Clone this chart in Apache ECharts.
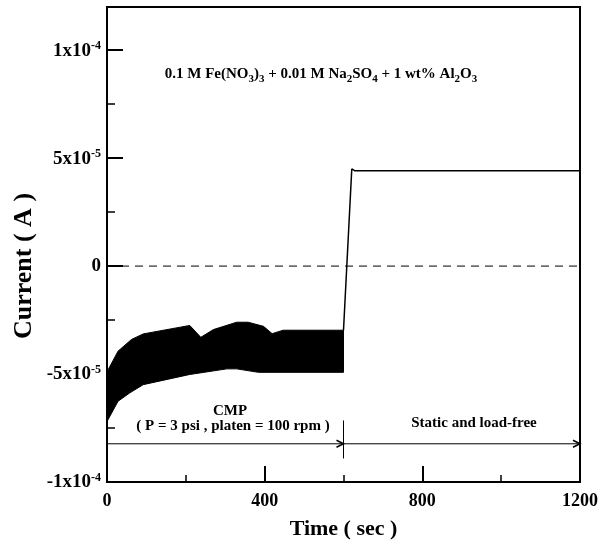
<!DOCTYPE html>
<html>
<head>
<meta charset="utf-8">
<script src="https://cdn.jsdelivr.net/npm/echarts@6/dist/echarts.min.js"></script>
<style>html,body{margin:0;padding:0;background:#fff}#c{width:610px;height:546px}</style>
</head>
<body>
<div id="c"></div>
<script>
// ---- data ----
const xTicks = [0, 400, 800, 1200];
const yTickLabels = {"-0.0001": ["-1x10", "-4"], "-0.00005": ["-5x10", "-5"], "0": ["0", ""], "0.00005": ["5x10", "-5"], "0.0001": ["1x10", "-4"]};
// CMP band (rapid oscillation envelope)
const bandUpperTime = [0, 28, 62, 92, 210, 238, 270, 329, 358, 397, 419, 447, 600];
const bandUpper = [-4.9e-5, -3.94e-5, -3.40e-5, -3.14e-5, -2.75e-5, -3.30e-5, -2.94e-5, -2.60e-5, -2.60e-5, -2.79e-5, -3.13e-5, -2.97e-5, -2.97e-5];
const bandLowerTime = [0, 28, 58, 92, 210, 304, 329, 384, 600];
const bandLower = [-7.2e-5, -6.26e-5, -5.87e-5, -5.49e-5, -5.02e-5, -4.76e-5, -4.76e-5, -4.92e-5, -4.92e-5];
// static, load-free part
const staticTime = [600, 621, 628, 1200];
const staticCurrent = [-2.97e-5, 4.5e-5, 4.42e-5, 4.42e-5];
// annotations
const arrowY = -8.23e-5;
const arrowSpans = [[0, 600], [600, 1200]];
const separatorTime = 600;
const separatorRange = [-7.15e-5, -8.91e-5];

const FONT = "'Liberation Serif', 'Times New Roman', serif";
const chart = echarts.init(document.getElementById('c'));

const staticData = staticTime.map((t, i) => [t, staticCurrent[i]]);
const upperPts = bandUpperTime.map((t, i) => [t, bandUpper[i]]);
const lowerPts = bandLowerTime.map((t, i) => [t, bandLower[i]]);

chart.setOption({
  animation: false,
  grid: {left: 107, right: 30, top: 7, bottom: 64, show: true, borderColor: '#000', borderWidth: 2, backgroundColor: 'transparent'},
  xAxis: {
    type: 'value', min: 0, max: 1200, interval: 400,
    name: 'Time ( sec )', nameLocation: 'middle', nameGap: 36,
    nameTextStyle: {fontFamily: FONT, fontWeight: 'bold', fontSize: 22, color: '#000'},
    axisLine: {onZero: false, lineStyle: {color: '#000', width: 2}},
    axisTick: {inside: true, length: 16, lineStyle: {color: '#000', width: 2}},
    minorTick: {show: true, splitNumber: 2, length: 7, lineStyle: {color: '#000', width: 1.5}},
    splitLine: {show: false},
    axisLabel: {fontFamily: FONT, fontWeight: 'bold', fontSize: 18, color: '#000', margin: 10,
      formatter: function (v) { return xTicks.indexOf(v) >= 0 ? String(v) : ''; }}
  },
  yAxis: [{
    type: 'value', min: -1e-4, max: 1.2e-4, interval: 5e-5, position: 'left',
    axisLine: {onZero: false, lineStyle: {color: '#000', width: 2}},
    axisTick: {inside: true, length: 16, lineStyle: {color: '#000', width: 2}},
    splitLine: {show: false},
    axisLabel: {
      margin: 6,
      formatter: function (v) {
        let k = null;
        for (const kk in yTickLabels) { if (Math.abs(parseFloat(kk) - v) < 1e-9) k = kk; }
        if (k === null) return '';
        const p = yTickLabels[k];
        return p[1] ? '{b|' + p[0] + '}{s|' + p[1] + '}' : '{b|' + p[0] + '}';
      },
      rich: {
        b: {fontFamily: FONT, fontWeight: 'bold', fontSize: 19, color: '#000', lineHeight: 20, verticalAlign: 'bottom'},
        s: {fontFamily: FONT, fontWeight: 'bold', fontSize: 12, color: '#000', lineHeight: 20, verticalAlign: 'top'}
      }
    }
  }, {
    type: 'value', min: -1e-4, max: 1.2e-4, interval: 2.5e-5, position: 'left',
    axisLine: {show: false, onZero: false},
    axisTick: {inside: true, length: 8, lineStyle: {color: '#000', width: 1.5}},
    axisLabel: {show: false},
    splitLine: {show: false}
  }],
  graphic: [
    {type: 'text', x: 24, y: 266, rotation: Math.PI / 2, style: {x: 0, y: 0, align: 'center', verticalAlign: 'middle',
      text: 'Current ( A )', fontFamily: FONT, fontWeight: 'bold', fontSize: 26, fill: '#000'}},
    {type: 'text', style: {x: 321, y: 76, align: 'center', verticalAlign: 'middle',
      text: '{n|0.1 M Fe(NO}{u|3}{n|)}{u|3}{n| + 0.01 M Na}{u|2}{n|SO}{u|4}{n| + 1 wt% Al}{u|2}{n|O}{u|3}',
      rich: {
        n: {fontFamily: FONT, fontWeight: 'bold', fontSize: 15, fill: '#000', lineHeight: 18, verticalAlign: 'top'},
        u: {fontFamily: FONT, fontWeight: 'bold', fontSize: 11, fill: '#000', lineHeight: 18, verticalAlign: 'bottom'}
      }}},
    {type: 'text', style: {x: 230, y: 411, align: 'center', verticalAlign: 'middle', text: 'CMP',
      fontFamily: FONT, fontWeight: 'bold', fontSize: 15, fill: '#000'}},
    {type: 'text', style: {x: 233, y: 426, align: 'center', verticalAlign: 'middle', text: '( P = 3 psi , platen = 100 rpm )',
      fontFamily: FONT, fontWeight: 'bold', fontSize: 15, fill: '#000'}},
    {type: 'text', style: {x: 474, y: 423, align: 'center', verticalAlign: 'middle', text: 'Static and load-free',
      fontFamily: FONT, fontWeight: 'bold', fontSize: 15, fill: '#000'}}
  ],
  series: [
    {
      type: 'line', data: [[0, 0], [1200, 0]], symbol: 'none', silent: true,
      lineStyle: {color: '#000', width: 1, type: [8, 6]}
    },
    {
      type: 'custom', data: [[0, 0]], silent: true,
      renderItem: function (params, api) {
        const pts = upperPts.concat(lowerPts.slice().reverse()).map(p => api.coord(p));
        return {type: 'polygon', shape: {points: pts}, style: {fill: '#000', stroke: '#000', lineWidth: 1}};
      }
    },
    {
      type: 'line', data: staticData, symbol: 'none', silent: true,
      lineStyle: {color: '#000', width: 1.5}
    },
    {
      type: 'line', data: [[separatorTime, separatorRange[0]], [separatorTime, separatorRange[1]]], symbol: 'none', silent: true,
      lineStyle: {color: '#000', width: 1}
    },
    {
      type: 'custom', data: arrowSpans.map(s => [s[0], s[1], arrowY]), encode: {x: [0, 1], y: 2}, silent: true,
      renderItem: function (params, api) {
        const a = api.coord([api.value(0), api.value(2)]);
        const b = api.coord([api.value(1), api.value(2)]);
        return {type: 'group', children: [
          {type: 'line', shape: {x1: a[0], y1: a[1], x2: b[0], y2: b[1]}, style: {stroke: '#000', lineWidth: 1}},
          {type: 'polyline', shape: {points: [[b[0] - 7, b[1] - 3.5], [b[0], b[1]], [b[0] - 7, b[1] + 3.5]]}, style: {stroke: '#000', lineWidth: 1.5, fill: null}}
        ]};
      }
    }
  ]
});
</script>
</body>
</html>
